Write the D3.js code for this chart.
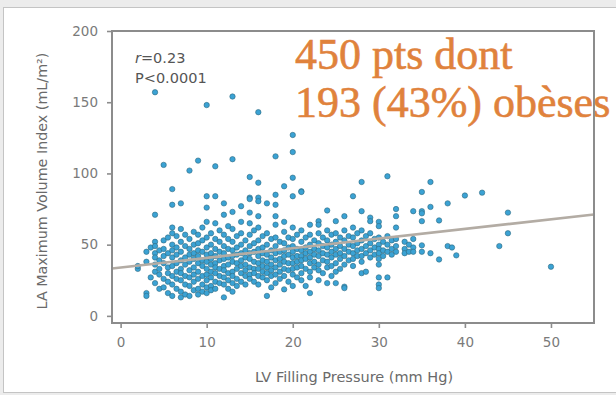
<!DOCTYPE html>
<html>
<head>
<meta charset="utf-8">
<script src="https://cdn.jsdelivr.net/npm/d3@7"></script>
<style>
  html, body { margin: 0; padding: 0; background: #ececec; }
  svg { display: block; }
  .note { font-family: 'Liberation Serif', Tinos, 'Times New Roman', serif; }
  .sans { font-family: 'DejaVu Sans', Verdana, sans-serif; }
</style>
</head>
<body>
<svg id="chart" width="616" height="395"></svg>
<script>
// LV filling pressure columns (mm Hg) and the LA volume index values read at each one
const fillingPressure = [
  2, 3, 3.5, 4, 4.5, 5, 5.5, 6, 6.5, 7, 7.5, 8, 8.5, 9, 9.5, 10, 10.5, 11, 11.5, 12, 12.5,
  13, 13.5, 14, 14.5, 15, 15.5, 16, 16.5, 17, 17.5, 18, 18.5, 19, 19.5, 20, 20.5, 21, 21.5,
  22, 22.5, 23, 23.5, 24, 24.5, 25, 25.5, 26, 26.5, 27, 27.5, 28, 28.5, 29, 29.5, 30, 30.5,
  31, 31.5, 32, 33, 33.5, 34, 35, 36, 37, 38, 38.5, 39, 40, 42, 44, 45, 50
];
const laVolumeIndex = [
  [33, 35],
  [16, 14, 38, 45],
  [27, 48],
  [157, 71, 52, 49, 44, 41, 36, 31, 23],
  [46, 39, 33, 29, 19],
  [106, 53, 42, 37, 26, 20, 47],
  [55, 44, 34, 30, 24, 16],
  [89, 78, 62, 58, 50, 46, 41, 35, 28, 22, 14],
  [56, 48, 43, 37, 31, 26, 19],
  [79, 61, 52, 45, 39, 33, 30, 25, 17, 13],
  [57, 49, 41, 36, 28, 22, 15],
  [102, 54, 47, 43, 38, 32, 27, 21, 14],
  [59, 50, 44, 40, 34, 29, 24, 18],
  [109, 57, 51, 46, 42, 37, 31, 26, 19, 15],
  [62, 53, 45, 39, 35, 28, 22, 17],
  [148, 84, 76, 66, 55, 48, 43, 38, 33, 29, 25, 20, 16],
  [58, 50, 44, 40, 36, 31, 27, 21, 18],
  [105, 84, 65, 54, 47, 42, 37, 34, 30, 24, 19],
  [60, 52, 45, 39, 33, 28, 23],
  [79, 71, 57, 49, 44, 40, 35, 32, 27, 22, 13],
  [63, 54, 47, 41, 36, 30, 25, 19],
  [154, 110, 73, 61, 52, 46, 42, 38, 31, 28, 23, 17],
  [56, 48, 43, 37, 33, 26, 21],
  [77, 66, 58, 50, 44, 39, 35, 30, 24],
  [53, 46, 41, 36, 32, 28, 22],
  [97.5, 83, 82, 72.5, 65, 57, 49, 44, 40, 34, 29, 26],
  [60, 51, 45, 38, 33, 30, 24],
  [143, 93.5, 83, 80.5, 70, 62, 53, 47, 42, 37, 33, 28, 22],
  [56, 48, 44, 39, 35, 31, 27],
  [79, 58, 50, 43, 38, 34, 30, 25, 14],
  [54, 46, 41, 36, 32, 28, 20],
  [112, 85, 78, 70, 64, 55, 49, 44, 39, 34, 29, 23],
  [52, 45, 40, 36, 31, 26],
  [91, 66, 59, 51, 46, 42, 38, 33, 28, 18.6],
  [55, 48, 43, 37, 32, 24],
  [127, 115, 97, 84, 62, 54, 49, 45, 41, 37, 33, 29, 21],
  [57, 47, 42, 38, 34, 27],
  [87.5, 87, 60, 52, 46, 42, 39, 35, 30, 25],
  [55, 48, 44, 40, 33, 21],
  [64, 57, 50, 45, 41, 37, 31, 27, 16],
  [53, 47, 43, 38, 34],
  [66.5, 64, 58, 51, 46, 42, 36, 32, 25],
  [55, 49, 44, 39, 30],
  [74, 60, 53, 48, 43, 38, 34, 23],
  [57, 50, 45, 41, 35, 28],
  [66.5, 58, 52, 47, 43, 37, 31, 23],
  [55, 49, 44, 40, 33],
  [70, 60, 53, 47, 42, 36, 20.5, 19.5],
  [56, 50, 45, 39],
  [84, 62, 55, 49, 44, 40, 35],
  [58, 51, 46, 42],
  [94, 73.5, 60, 53, 47, 42, 38, 30],
  [56, 49, 44, 31],
  [69, 66.5, 58, 51, 46, 41],
  [54, 48, 43],
  [66, 63, 55, 50, 47, 44, 40, 36, 27, 22, 19.5],
  [52, 46, 42],
  [98, 56, 50, 45, 27],
  [53, 47, 43],
  [75, 70, 62, 54, 49, 45],
  [52, 47, 44],
  [50, 45],
  [73.5, 54, 48, 45],
  [87, 73.5, 72, 66.5, 49.5, 45],
  [94, 76.5, 44],
  [67, 39.6],
  [79, 49],
  [48],
  [42.5],
  [84.5],
  [86.5],
  [49],
  [72.5, 58],
  [34.5]
];

const xTicks = [0, 10, 20, 30, 40, 50];
const yTicks = [0, 50, 100, 150, 200];
const fitPressure = [-1, 55];
const fitVolume = [33.3, 71.2];
const xTitle = 'LV Filling Pressure (mm Hg)';
const yTitle = 'LA Maximum Volume Index (mL/m²)';
const noteLines = ['450 pts dont', '193 (43%) obèses'];

const width = 616;
const height = 395;
const margin = { top: 31, right: 22, bottom: 72, left: 112 };
const chartWidth = width - margin.left - margin.right;
const chartHeight = height - margin.top - margin.bottom;

const points = fillingPressure.flatMap((p, i) =>
  laVolumeIndex[i].map((v) => ({ x: p, y: v }))
);

const xScale = d3.scaleLinear().domain([-1, 55]).range([0, chartWidth]);
const yScale = d3.scaleLinear().domain([-5, 200]).range([chartHeight, 0]);

const svg = d3.select('#chart');

// slide panel
svg.append('rect')
  .attr('x', 3.5)
  .attr('y', 7.5)
  .attr('width', width)
  .attr('height', height - 10)
  .attr('fill', '#ffffff')
  .attr('stroke', '#c4c4c4');

svg.append('defs')
  .append('filter')
  .attr('id', 'soft')
  .append('feGaussianBlur')
  .attr('stdDeviation', 0.45);

const g = svg.append('g')
  .attr('transform', `translate(${margin.left},${margin.top})`);

const axisColor = '#8c8c8c';

const xAxis = d3.axisBottom(xScale).tickValues(xTicks).tickSize(5).tickPadding(9);
const yAxis = d3.axisLeft(yScale).tickValues(yTicks).tickSize(5).tickPadding(9);

const gx = g.append('g')
  .attr('transform', `translate(0,${chartHeight})`)
  .call(xAxis);
const gy = g.append('g').call(yAxis);

[gx, gy].forEach((ax) => {
  ax.attr('font-family', null).attr('font-size', null);
  ax.select('.domain').remove();
  ax.selectAll('line').attr('stroke', axisColor).attr('stroke-width', 1.6);
  ax.selectAll('text')
    .attr('class', 'sans')
    .attr('fill', '#7a7a7a')
    .attr('font-size', 13.5);
});

// points
g.append('g')
  .attr('filter', 'url(#soft)')
  .selectAll('circle')
  .data(points)
  .enter()
  .append('circle')
  .attr('cx', (d) => xScale(d.x))
  .attr('cy', (d) => yScale(d.y))
  .attr('r', 2.7)
  .attr('fill', '#3aa2d4')
  .attr('stroke', '#2f6a80')
  .attr('stroke-width', 0.6);

// regression line
g.append('line')
  .attr('x1', xScale(fitPressure[0]))
  .attr('y1', yScale(fitVolume[0]))
  .attr('x2', xScale(fitPressure[1]))
  .attr('y2', yScale(fitVolume[1]))
  .attr('stroke', '#b3aca4')
  .attr('stroke-width', 2.6)
  .attr('filter', 'url(#soft)');

// stats
const stat = g.append('g')
  .attr('class', 'sans')
  .attr('fill', '#555')
  .attr('font-size', 14.5);
const rText = stat.append('text').attr('x', 23).attr('y', 32);
rText.append('tspan').style('font-style', 'italic').text('r');
rText.append('tspan').text('=0.23');
stat.append('text').attr('x', 23).attr('y', 52).text('P<0.0001');

// orange note
g.append('g')
  .selectAll('text')
  .data(noteLines)
  .enter()
  .append('text')
  .attr('class', 'note')
  .attr('x', 183)
  .attr('y', (d, i) => 38 + i * 48)
  .attr('fill', '#e0823c')
  .attr('stroke', '#e0823c')
  .attr('stroke-width', 0.6)
  .attr('font-size', 44)
  .text((d) => d);

// frame drawn over the note, as in the slide
g.append('rect')
  .attr('width', chartWidth)
  .attr('height', chartHeight)
  .attr('fill', 'none')
  .attr('stroke', axisColor)
  .attr('stroke-width', 2);

// axis titles
g.append('text')
  .attr('class', 'sans')
  .attr('x', 242)
  .attr('y', 351)
  .attr('text-anchor', 'middle')
  .attr('fill', '#6a6a6a')
  .attr('font-size', 14.5)
  .text(xTitle);

svg.append('text')
  .attr('class', 'sans')
  .attr('transform', 'translate(47,181) rotate(-90)')
  .attr('text-anchor', 'middle')
  .attr('fill', '#6a6a6a')
  .attr('font-size', 14.3)
  .text(yTitle);
</script>
</body>
</html>
